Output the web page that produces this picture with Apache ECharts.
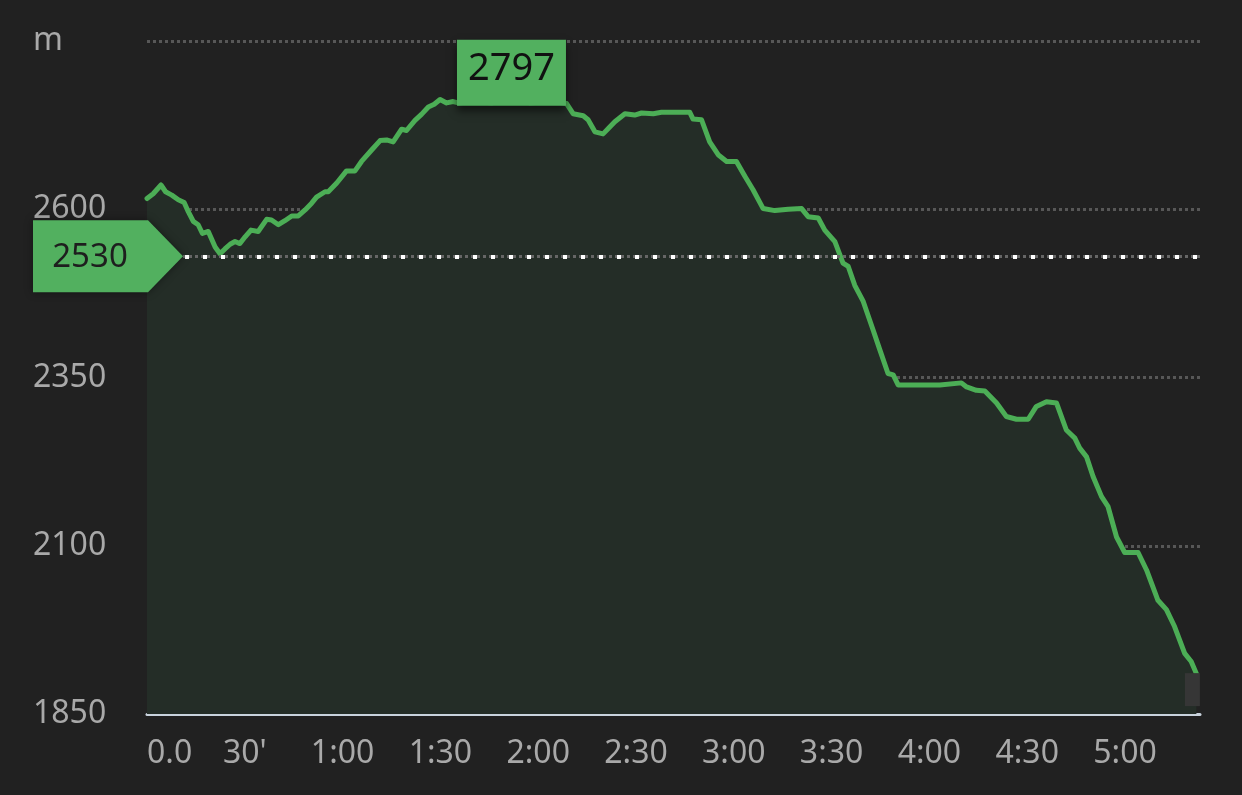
<!DOCTYPE html>
<html>
<head>
<meta charset="utf-8">
<script src="https://cdn.jsdelivr.net/npm/echarts@6/dist/echarts.min.js"></script>
<style>
html,body{margin:0;padding:0;background:#212121;}
#chart{width:1242px;height:795px;}
</style>
</head>
<body>
<div id="chart"></div>
<script>
// elapsed time in minutes
const minutes = [0, 1.9, 4.3, 5.7, 7.6, 9.6, 11.4, 12.7, 14.2, 15.7, 17.0, 18.8, 20.9, 22.4, 23.9, 25.5, 27.0, 28.5, 30.1, 31.9, 34.1, 36.7, 38.2, 40.3, 42.3, 44.4, 46.4, 48.5, 50.5, 52.0, 54.6, 55.6, 58.2, 61.2, 63.8, 65.8, 68.9, 71.5, 73.5, 75.5, 78.1, 79.6, 82.2, 84.2, 86.3, 88.1, 89.9, 91.9, 93.9, 95.5, 100.6, 105.8, 111.8, 117.4, 123.6, 128.7, 130.7, 133.8, 135.3, 137.4, 139.9, 141.5, 143.5, 146.6, 149.6, 151.7, 155.3, 157.8, 166.5, 167.5, 170.1, 172.6, 175.2, 177.8, 180.8, 183.4, 185.9, 189.0, 192.6, 196.7, 200.8, 202.8, 205.9, 207.9, 211.0, 213.5, 215.1, 217.1, 219.7, 222.7, 224.8, 227.3, 228.9, 230.4, 243.2, 249.8, 251.4, 254.4, 257.0, 260.6, 263.6, 266.7, 270.3, 272.8, 275.9, 279.0, 282.0, 284.6, 286.1, 288.2, 290.2, 292.8, 294.8, 297.4, 299.9, 304.0, 306.6, 310.1, 312.7, 315.2, 318.3, 320.3, 321.9];
// elevation in metres
const elevation = [2616, 2623, 2636, 2626, 2621, 2614, 2610, 2596, 2582, 2577, 2564, 2567, 2544, 2534, 2541, 2548, 2552, 2549, 2559, 2569, 2567, 2585, 2584, 2577, 2583, 2590, 2590, 2599, 2609, 2618, 2626, 2626, 2639, 2657, 2657, 2671, 2688, 2702, 2703, 2700, 2719, 2717, 2732, 2741, 2752, 2756, 2763, 2758, 2760, 2758, 2761, 2758, 2797, 2758, 2761, 2757, 2742, 2739, 2733, 2715, 2712, 2720, 2730, 2742, 2740, 2743, 2742, 2744, 2744, 2734, 2733, 2700, 2681, 2671, 2671, 2649, 2629, 2601, 2598, 2600, 2601, 2589, 2587, 2569, 2552, 2520, 2515, 2487, 2463, 2421, 2391, 2356, 2354, 2339, 2339, 2342, 2336, 2331, 2330, 2312, 2292, 2288, 2288, 2307, 2314, 2312, 2272, 2260, 2245, 2232, 2203, 2173, 2158, 2113, 2090, 2090, 2064, 2019, 2005, 1980, 1940, 1928, 1910];
const xTickLabels = ['0.0', "30'", '1:00', '1:30', '2:00', '2:30', '3:00', '3:30', '4:00', '4:30', '5:00'];
const yTickLabels = ['1850', '2100', '2350', '2600', 'm'];
const markerElevation = 2530;
const xMin = 0, xMax = 323, xStep = 30;
const yMin = 1850, yMax = 2850, yStep = 250;

const FONT = 'Noto Sans';
const GREEN = '#4cae56';
const BOX = '#52b05f';

const chart = echarts.init(document.getElementById('chart'), null, {renderer: 'canvas'});
const seriesData = minutes.map((m, i) => [m, elevation[i]]);
const lastIdx = minutes.length - 1;

chart.setOption({
  backgroundColor: '#212121',
  animation: false,
  grid: {left: 147, right: 42, top: 41, bottom: 81, containLabel: false},
  xAxis: {
    type: 'value', min: xMin, max: xMax, interval: xStep,
    axisLine: {show: true, onZero: false, lineStyle: {color: '#c9d3dd', width: 3}},
    axisTick: {show: false},
    splitLine: {show: false},
    axisLabel: {
      color: '#a9a9a9', fontFamily: FONT, fontSize: 32, margin: 24,
      showMaxLabel: false, alignMinLabel: 'left',
      formatter: v => xTickLabels[Math.round(v / xStep)] ?? ''
    }
  },
  yAxis: {
    type: 'value', min: yMin, max: yMax, interval: yStep,
    axisLine: {show: false}, axisTick: {show: false},
    splitLine: {show: true, lineStyle: {color: '#575757', width: 3, type: [3, 3]}},
    axisLabel: {
      color: '#a9a9a9', fontFamily: FONT, fontSize: 32, margin: 114, align: 'left',
      formatter: v => yTickLabels[Math.round((v - yMin) / yStep)] ?? ''
    }
  },
  series: [{
    type: 'line',
    data: seriesData,
    showSymbol: false,
    symbol: 'none',
    lineStyle: {color: GREEN, width: 5, join: 'round', cap: 'round'},
    areaStyle: {color: '#242d27', opacity: 1},
    markLine: {
      silent: true, symbol: 'none', label: {show: false},
      data: [
        {yAxis: markerElevation, lineStyle: {color: '#666666', width: 3, type: [3, 3]}},
        {yAxis: markerElevation, lineStyle: {color: '#ffffff', width: 4, type: [4, 14], dashOffset: -2}}
      ]
    },
    markPoint: {
      silent: true,
      z: 10,
      data: [
        {
          type: 'max',
          symbol: 'rect', symbolSize: [109, 66], symbolOffset: [0, -4],
          itemStyle: {color: BOX, shadowBlur: 8, shadowColor: 'rgba(0,0,0,0.55)', shadowOffsetY: 5},
          label: {show: true, position: 'inside', offset: [0, -3], color: '#111', fontFamily: FONT, fontSize: 38,
            formatter: p => String(p.value)}
        },
        {
          coord: [xMin, markerElevation], value: markerElevation,
          symbol: 'path://M0,0L115,0L150,36L115,72L0,72Z', symbolSize: [150, 72], symbolOffset: [-39, 0],
          itemStyle: {color: BOX, shadowBlur: 8, shadowColor: 'rgba(0,0,0,0.4)'},
          label: {show: true, position: 'inside', offset: [-18, 1], color: '#1e1e1e', fontFamily: FONT, fontSize: 33,
            formatter: p => String(p.value)}
        },
        {
          coord: [minutes[lastIdx], elevation[lastIdx]],
          symbol: 'rect', symbolSize: [15, 33], symbolOffset: [-4, 16],
          itemStyle: {color: '#363636'},
          label: {show: false}
        }
      ]
    }
  }]
});
</script>
</body>
</html>
